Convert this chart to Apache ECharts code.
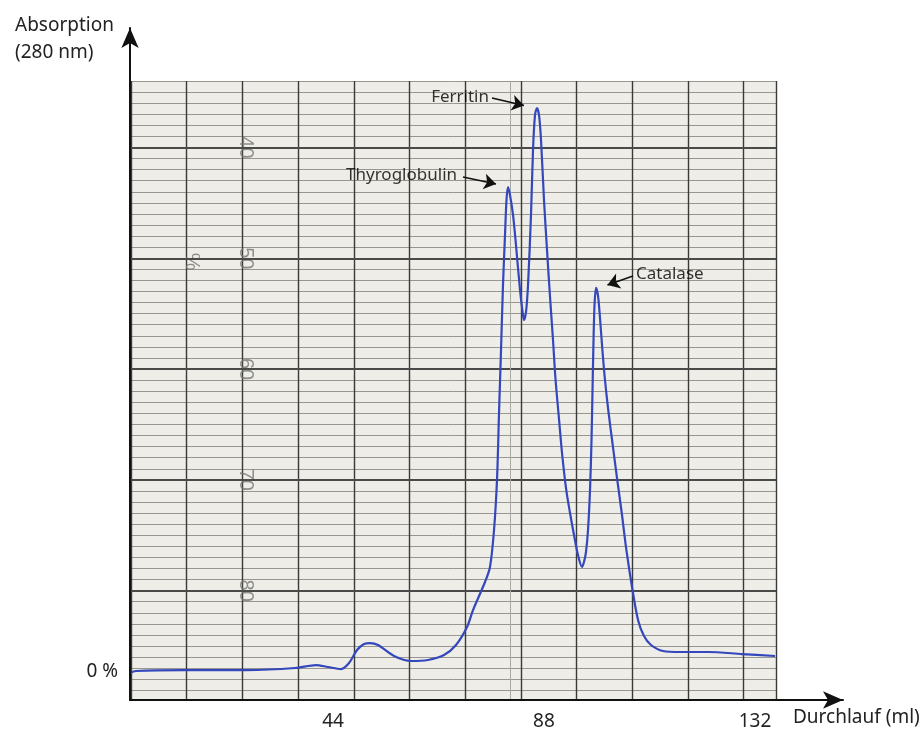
<!DOCTYPE html>
<html>
<head>
<meta charset="utf-8">
<script src="https://cdn.jsdelivr.net/npm/echarts@6.0.0/dist/echarts.min.js"></script>
<style>
  html, body { margin: 0; padding: 0; background: #fff; }
  #chart { width: 922px; height: 731px; }
</style>
</head>
<body>
<div id="chart"></div>
<script>
// elution trace: volume (ml) vs absorption (% of highest peak)
const volume = [1.66, 2.92, 12.93, 25.86, 36.08, 40.45, 42.96, 45.67, 47.34, 49.01, 50.47, 51.72, 53.38,
  56.72, 60.27, 63.81, 67.15, 69.65, 71.95, 73.20, 75.70, 76.74, 77.58, 78.20, 78.62, 79.04, 79.45, 79.87,
  80.18, 80.50, 80.91, 81.54, 82.16, 83.00, 83.62, 83.83, 84.25, 84.67, 85.29, 85.71, 86.13, 86.54, 86.96,
  87.38, 88.00, 88.63, 89.26, 89.88, 90.40, 91.13, 91.76, 92.59, 93.43, 94.26, 95.09, 95.93, 96.34, 96.76,
  97.18, 97.60, 97.91, 98.12, 98.33, 98.54, 98.85, 99.27, 99.68, 100.10, 100.62, 101.35, 102.39, 103.23,
  104.27, 105.10, 106.36, 107.61, 108.86, 110.32, 112.82, 116.37, 122.21, 129.30, 136.18]
const absorption = [-0.18, 0.18, 0.35, 0.35, 0.71, 1.24, 0.89, 0.53, 1.60, 3.90, 4.96, 5.14, 4.79,
  2.84, 1.95, 2.13, 3.01, 4.79, 7.98, 10.99, 15.96, 18.62, 25.18, 34.04, 45.92, 57.09, 68.62, 77.48,
  83.69, 85.99, 84.57, 81.03, 75.71, 67.73, 63.30, 62.41, 63.83, 68.62, 81.03, 92.55, 98.76, 100.00, 98.76,
  94.33, 83.69, 74.82, 66.49, 58.87, 51.95, 44.86, 38.83, 32.62, 28.19, 24.29, 20.74, 18.62, 19.50, 21.28,
  25.18, 32.27, 41.13, 50.00, 58.87, 65.07, 68.09, 66.67, 62.77, 57.98, 52.66, 46.81, 39.89, 34.39,
  27.84, 22.16, 15.07, 9.22, 6.38, 4.79, 3.72, 3.55, 3.55, 3.19, 2.84]

const xTicks = [44, 88, 132]
const yTicks = [0]

// peak annotations: text anchor, arrow start, arrow end (volume, absorption)
const peakNames = ['Thyroglobulin', 'Ferritin', 'Catalase']
const peakTextAt = [[70.07, 88.12], [76.74, 101.95], [106.98, 70.57]]
const peakTextSide = ['left', 'left', 'right']
const arrowFrom = [[71.11, 87.77], [77.16, 101.77], [106.56, 70.21]]
const arrowTo = [[77.99, 86.52], [83.83, 100.43], [101.23, 68.62]]

// recorder paper: columns are grid cells, rows are the printed % scale
const paperMajor = [40, 50, 60, 70, 80]
const paperLabelCol = 2.05
const percentSign = [1.08, 50.3]
const paperStreak = 6.8

const chart = echarts.init(document.getElementById('chart'))
const FONT = 'Noto Sans'

chart.setOption({
  animation: false,
  backgroundColor: '#fff',
  textStyle: { fontFamily: FONT },
  grid: [
    // paper
    { left: 131, right: 146, top: 81, bottom: 31, show: true, backgroundColor: '#eeede7', borderWidth: 0, z: 0 },
    // chart axes
    { left: 130, right: 79, top: 28, bottom: 31, z: 5 },
  ],
  xAxis: [
    {
      gridIndex: 0, type: 'value', min: 0, max: 11.58, interval: 1, z: 1,
      axisLine: { show: false }, axisTick: { show: false }, axisLabel: { show: false },
      splitLine: { show: true, lineStyle: { color: '#3a3a3a', width: 1.4 } },
    },
    {
      gridIndex: 1, type: 'value', min: 1.66, max: 150.36, z: 10,
      axisLine: { show: true, onZero: false, symbol: ['none', 'arrow'], symbolSize: [13, 20], lineStyle: { color: '#111', width: 2 } },
      axisTick: { show: false },
      splitLine: { show: false },
      axisLabel: { customValues: xTicks, fontSize: 19, color: '#222', margin: 12 },
    },
  ],
  yAxis: [
    {
      gridIndex: 0, type: 'value', inverse: true, min: 34, max: 89.87, interval: 1, z: 1,
      axisLine: { show: false }, axisTick: { show: false }, axisLabel: { show: false },
      splitLine: { show: true, lineStyle: { color: '#97978f', width: 1 } },
    },
    {
      gridIndex: 1, type: 'value', min: -4.96, max: 114.18, z: 10,
      axisLine: { show: true, onZero: false, symbol: ['none', 'arrow'], symbolSize: [13, 20], lineStyle: { color: '#111', width: 2 } },
      axisTick: { show: false },
      splitLine: { show: false },
      axisLabel: { customValues: yTicks, formatter: v => v + ' %', fontSize: 19, color: '#222', margin: 12 },
    },
  ],
  graphic: [
    { type: 'text', left: 15, top: 12, style: { text: 'Absorption\n(280 nm)', font: '19px "Noto Sans"', lineHeight: 27, fill: '#222' } },
    { type: 'text', left: 793, top: 708, style: { text: 'Durchlauf (ml)', font: '19px "Noto Sans"', fill: '#222' } },
  ],
  series: [
    {
      // printed numbers on the recorder paper + heavy rulings
      type: 'scatter', xAxisIndex: 0, yAxisIndex: 0, symbolSize: 0, z: 1, silent: true,
      data: paperMajor.map(v => ({ value: [paperLabelCol, v], name: String(v) }))
        .concat([{ value: percentSign, name: '%' }]),
      label: {
        show: true, position: 'inside', rotate: -90, formatter: p => p.name,
        fontSize: 20, color: '#777773', fontFamily: 'Liberation Sans',
      },
      markLine: {
        silent: true, symbol: 'none', label: { show: false },
        data: paperMajor.map(v => ({ yAxis: v, lineStyle: { color: '#4a4a48', width: 1.8, type: 'solid' } }))
          .concat([{ xAxis: paperStreak, lineStyle: { color: '#a9a9a3', width: 1, type: 'solid' } }]),
      },
    },
    {
      type: 'line', xAxisIndex: 1, yAxisIndex: 1, z: 6,
      data: volume.map((v, i) => [v, absorption[i]]),
      showSymbol: false, smooth: 0.3,
      lineStyle: { color: '#3447bd', width: 2.2 },
      markLine: {
        silent: true, symbol: ['none', 'arrow'], symbolSize: 12,
        label: { show: false },
        lineStyle: { color: '#111', width: 1.6, type: 'solid' },
        data: arrowFrom.map((a, i) => [{ coord: a }, { coord: arrowTo[i] }]),
      },
    },
    {
      type: 'scatter', xAxisIndex: 1, yAxisIndex: 1, symbolSize: 0, z: 7, silent: true,
      data: peakNames.map((n, i) => ({
        name: n, value: peakTextAt[i],
        label: { position: peakTextSide[i], color: '#000' },
      })),
      label: { show: true, formatter: p => p.name, distance: 1, fontSize: 17, color: '#000' },
    },
  ],
})
</script>
</body>
</html>
